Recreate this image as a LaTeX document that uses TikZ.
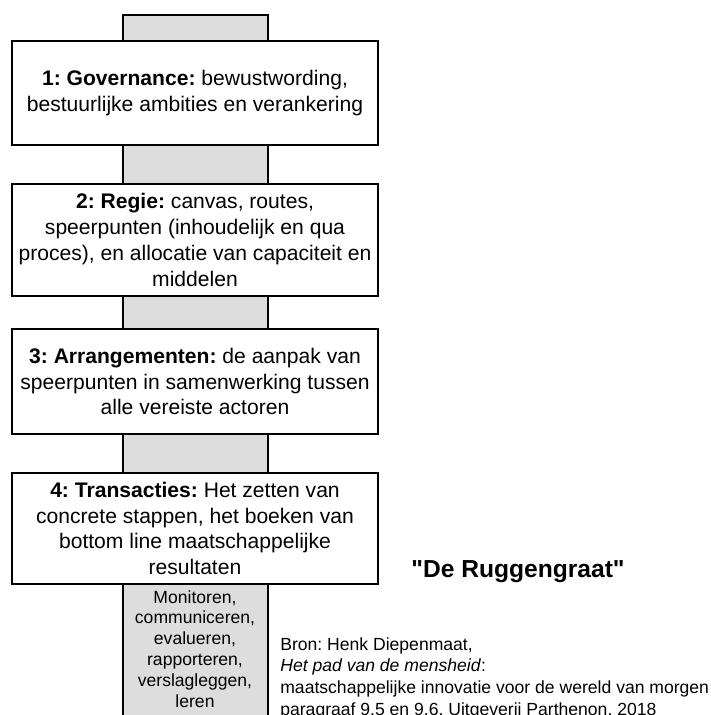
\documentclass[tikz,border=0pt]{standalone}
\usepackage{fontspec}
\setmainfont{Liberation Sans}
\usepackage{tikz}
\frenchspacing

\definecolor{spinegray}{RGB}{221,221,221}

\begin{document}
\begin{tikzpicture}[x=0.02cm, y=-0.02cm]
    \tikzset{
        stap/.style={draw, line width=0.8pt, fill=white, minimum width=7.32cm,
            align=center, inner sep=0pt,
            font=\fontsize{12}{14.7}\selectfont},
        klein/.style={align=center, inner sep=0pt,
            font=\fontsize{10}{11.9}\selectfont},
        bron/.style={align=left, inner sep=0pt,
            font=\fontsize{10}{12.4}\selectfont}
    }

    % Fix the page to the reference size
    \useasboundingbox (0, 0) rectangle (710, 715);
    \clip (0, 0) rectangle (710, 715);

    % Draw the spine
    \filldraw[fill=spinegray, line width=0.8pt] (123, 730) -- (123, 15) -- (268, 15) -- (268, 730);

    % The four steps
    \node[stap, minimum height=2.08cm] (governance) at (195, 93)
        {\textbf{1: Governance:} bewustwording,\\ bestuurlijke ambities en verankering};
    \node[stap, minimum height=2.24cm] (regie) at (195, 240)
        {\textbf{2: Regie:} canvas, routes,\\ speerpunten (inhoudelijk en qua\\ proces), en allocatie van capaciteit en\\ middelen};
    \node[stap, minimum height=2.1cm] (arrangementen) at (195, 381.5)
        {\textbf{3: Arrangementen:} de aanpak van\\ speerpunten in samenwerking tussen\\ alle vereiste actoren};
    \node[stap, minimum height=2.22cm] (transacties) at (195, 528.5)
        {\textbf{4: Transacties:} Het zetten van\\ concrete stappen, het boeken van\\ bottom line maatschappelijke\\ resultaten};

    \node[klein] (monitoren) at (195, 649)
        {Monitoren,\\ communiceren,\\ evalueren,\\ rapporteren,\\ verslagleggen,\\ leren};

    \node[font=\fontsize{14}{16}\selectfont\bfseries] (titel) at (518, 572)
        {\textquotedbl De Ruggengraat\textquotedbl};

    \node[bron, anchor=north west] (bron) at (280, 637)
        {Bron: Henk Diepenmaat,\\ \textit{Het pad van de mensheid}:\\
         maatschappelijke innovatie voor de wereld van morgen\\
         paragraaf 9.5 en 9.6, Uitgeverij Parthenon, 2018};
\end{tikzpicture}
\end{document}
